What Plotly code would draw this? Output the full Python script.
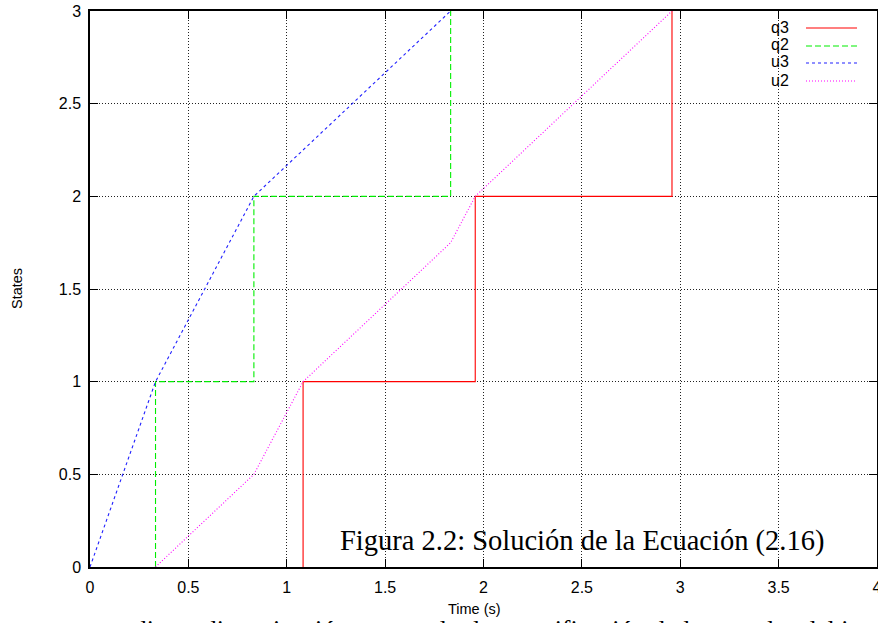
import plotly.graph_objects as go

# ---- data ----
t_q3 = [1.083, 1.083, 1.958, 2.958]
v_q3 = [0, 1, 2, 3]

t_q2 = [0.333, 0.333, 0.833, 1.833]
v_q2 = [0, 1, 2, 3]

t_u3 = [0, 0.333, 0.833, 1.833]
v_u3 = [0, 1, 2, 3]

t_u2 = [0.333, 0.833, 1.083, 1.833, 1.958, 2.958]
v_u2 = [0, 0.5, 1, 1.75, 2, 3]

x_ticks = [0, 0.5, 1, 1.5, 2, 2.5, 3, 3.5, 4]
x_tick_labels = ["0", "0.5", "1", "1.5", "2", "2.5", "3", "3.5", "4"]
y_ticks = [0, 0.5, 1, 1.5, 2, 2.5, 3]
y_tick_labels = ["0", "0.5", "1", "1.5", "2", "2.5", "3"]

series_names = ["q3", "q2", "u3", "u2"]
series_colors = ["#ff0000", "#00ee00", "#2020ff", "#ff00ff"]
series_dash = ["solid", "6px,3px", "3px,3px", "1px,2px"]

caption = "Figura 2.2: Solución de la Ecuación (2.16)"
page_text = "mediante discretización temporal y la cuantificación de los estados del integrador"

W, H = 878, 623
L, R, T, B = 90, 1, 11, 56
pw = W - L - R
ph = H - T - B

def px_x(px):
    return (px - L) / pw

def px_y(py):
    return (H - B - py) / ph

fig = go.Figure()
traces = [(t_q3, v_q3, "hv"), (t_q2, v_q2, "hv"), (t_u3, v_u3, "linear"), (t_u2, v_u2, "linear")]
for (tx, vy, shape), name, col, dash in zip(traces, series_names, series_colors, series_dash):
    fig.add_trace(go.Scatter(x=tx, y=vy, mode="lines", name=name,
                             line=dict(color=col, width=1.1, dash=dash, shape=shape),
                             showlegend=False))

font_sans = "Liberation Sans, Arial, Helvetica, sans-serif"
axis_common = dict(showline=True, linecolor="black", linewidth=1.5, mirror="ticks",
                   ticks="inside", ticklen=8, tickwidth=1, tickcolor="black",
                   showgrid=True, gridcolor="#222", gridwidth=1, griddash="1px,2px",
                   zeroline=False, automargin=False, ticklabeloverflow="allow",
                   tickfont=dict(family=font_sans, size=16, color="black"))

fig.update_xaxes(range=[0, 4], tickvals=x_ticks, ticktext=x_tick_labels,
                 ticklabelstandoff=5, **axis_common)
fig.update_yaxes(range=[0, 3], tickvals=y_ticks, ticktext=y_tick_labels,
                 ticklabelstandoff=4, **axis_common)

annotations = []
shapes = []
# manual gnuplot-style legend: text then line sample
leg_y = [27, 45, 62, 80]
for name, col, dash, py in zip(series_names, series_colors, series_dash, leg_y):
    annotations.append(dict(x=px_x(791), y=px_y(py), xref="paper", yref="paper",
                            text=name, showarrow=False, xanchor="right", yanchor="middle",
                            font=dict(family=font_sans, size=16, color="black")))
    shapes.append(dict(type="line", xref="paper", yref="paper",
                       x0=px_x(806), x1=px_x(857), y0=px_y(py + 1), y1=px_y(py + 1),
                       line=dict(color=col, width=1.1, dash=dash)))

# page text partly hidden at the bottom edge (drawn first, under the axis title)
annotations.append(dict(x=px_x(100), y=px_y(613), xref="paper", yref="paper", text=page_text,
                        showarrow=False, xanchor="left", yanchor="top",
                        font=dict(family="Liberation Serif, DejaVu Serif, serif", size=26, color="black")))
# axis titles
annotations.append(dict(x=px_x(17), y=px_y(289), xref="paper", yref="paper", text="States",
                        showarrow=False, textangle=-90, xanchor="center", yanchor="middle",
                        font=dict(family=font_sans, size=14.5, color="black")))
annotations.append(dict(x=px_x(474), y=px_y(609), xref="paper", yref="paper", text="Time (s)",
                        showarrow=False, xanchor="center", yanchor="middle",
                        font=dict(family=font_sans, size=14.5, color="black")))
# caption from the page
annotations.append(dict(x=px_x(582), y=px_y(541), xref="paper", yref="paper", text=caption,
                        showarrow=False, xanchor="center", yanchor="middle",
                        font=dict(family="Liberation Serif, DejaVu Serif, serif", size=28.5, color="black")))

fig.update_layout(width=W, height=H, margin=dict(l=L, r=R, t=T, b=B, autoexpand=False),
                  plot_bgcolor="white", paper_bgcolor="white",
                  annotations=annotations, shapes=shapes, showlegend=False)

fig.write_html("out.html", config={"displayModeBar": False},
               post_script="document.body.style.margin='0px';document.body.style.overflow='hidden';")
